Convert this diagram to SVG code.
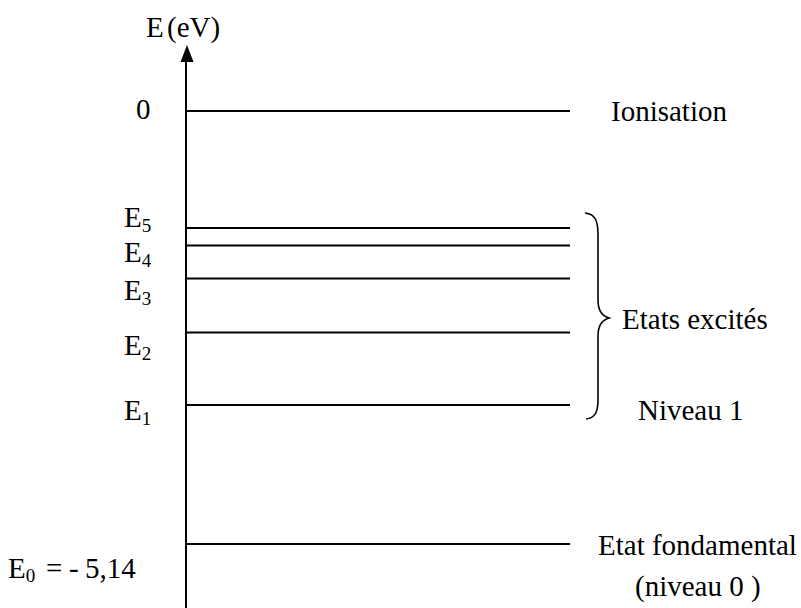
<svg xmlns="http://www.w3.org/2000/svg" width="801" height="608" viewBox="0 0 801 608">
<style>
.t{font-family:'Liberation Serif','DejaVu Serif',serif;font-size:29px;fill:#000}
.sub{font-size:19px}
.lvl{stroke:#000;stroke-width:2;fill:none}
</style>
<rect width="801" height="608" fill="#fff"/>
<g id="axis">
<line x1="186" y1="60" x2="186" y2="608" stroke="#000" stroke-width="2"/>
<polygon points="187,45 180.5,62 193.5,62" fill="#000"/>
<text class="t" x="146" y="37">E</text><text class="t" x="167" y="37">(eV)</text>
</g>
<g id="connectors">
<line class="lvl" x1="186" y1="111" x2="570" y2="111"/>
<line class="lvl" x1="186" y1="228" x2="570" y2="228"/>
<line class="lvl" x1="186" y1="245.5" x2="570" y2="245.5"/>
<line class="lvl" x1="186" y1="278.5" x2="570" y2="278.5"/>
<line class="lvl" x1="186" y1="332.5" x2="570" y2="332.5"/>
<line class="lvl" x1="186" y1="405" x2="570" y2="405"/>
<line class="lvl" x1="186" y1="544" x2="570" y2="544"/>
<path d="M585,213 C596,214 598,222 598,235 L598,300 C598,311 602,316 609,318 C602,320 598,325 598,336 L598,400 C598,412 595,418 586,419" stroke="#000" stroke-width="1.6" fill="none"/>
</g>
<g id="ionisation">
<text class="t" x="136" y="119">0</text>
<text class="t" x="611" y="121">Ionisation</text>
</g>
<g id="E5"><text class="t" x="124" y="227">E<tspan class="sub" dy="5">5</tspan></text></g>
<g id="E4"><text class="t" x="124" y="262">E<tspan class="sub" dy="5">4</tspan></text></g>
<g id="E3"><text class="t" x="124" y="300">E<tspan class="sub" dy="5">3</tspan></text></g>
<g id="E2"><text class="t" x="124" y="355">E<tspan class="sub" dy="5">2</tspan></text></g>
<g id="E1"><text class="t" x="124" y="420">E<tspan class="sub" dy="5">1</tspan></text></g>
<g id="excites"><text class="t" x="622" y="329">Etats excités</text></g>
<g id="niveau1"><text class="t" x="638" y="420">Niveau 1</text></g>
<g id="fondamental">
<text class="t" x="8" y="578">E<tspan class="sub" dy="4">0</tspan></text>
<text class="t" x="46" y="578">=</text>
<text class="t" x="69" y="578">-</text>
<text class="t" x="85" y="578">5,14</text>
<text class="t" x="598" y="555">Etat fondamental</text>
<text class="t" x="635" y="596">(niveau 0 )</text>
</g>
</svg>
